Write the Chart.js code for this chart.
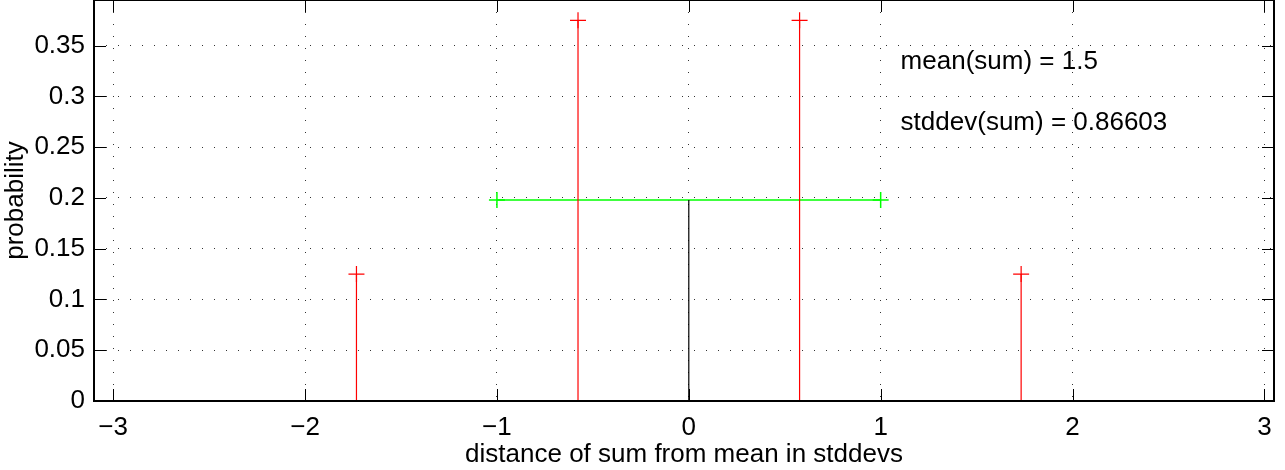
<!DOCTYPE html>
<html>
<head>
<meta charset="utf-8">
<script src="https://cdn.jsdelivr.net/npm/chart.js@4/dist/chart.umd.min.js"></script>
<style>
  body { margin: 0; background: #fff; }
  #wrap { width: 1285px; height: 470px; }
</style>
</head>
<body>
<div id="wrap"><canvas id="myChart" width="1285" height="470"></canvas></div>
<script>
// stems of the distribution (distance from mean in stddevs, probability)
const stemX = [-1.7321, -0.5774, 0.5774, 1.7321];
const stemP = [0.125, 0.375, 0.375, 0.125];

// black stem at the mean and green +/- 1 stddev bar
const meanX = 0;
const meanY = 0.198;
const sdBarX = [-1, 1];
const sdBarY = 0.198;

const xTicks = [-3, -2, -1, 0, 1, 2, 3];
const yTicks = [0, 0.05, 0.1, 0.15, 0.2, 0.25, 0.3, 0.35];

const noteText = ["mean(sum) = 1.5", "stddev(sum) = 0.86603"];
const noteX = 1.104;
const noteY = [0.334, 0.274];

const FONT = "'Liberation Sans', Arial, Helvetica, sans-serif";

let datasets = stemX.map(function (x, i) {
    return {
        data: [{ x: x, y: 0 }, { x: x, y: stemP[i] }],
        borderColor: '#ff0000',
        borderWidth: 1.2,
        showLine: true,
        pointStyle: 'cross',
        pointRadius: [0, 8],
        pointBorderColor: '#ff0000',
        pointBorderWidth: 1.2
    };
});

datasets.push({
    data: [{ x: meanX, y: 0 }, { x: meanX, y: meanY }],
    borderColor: '#000000',
    borderWidth: 1.2,
    showLine: true,
    pointRadius: 0
});

datasets.push({
    data: sdBarX.map(function (x) { return { x: x, y: sdBarY }; }),
    borderColor: '#00ff00',
    borderWidth: 1.5,
    showLine: true,
    pointStyle: 'cross',
    pointRadius: 8,
    pointBorderColor: '#00ff00',
    pointBorderWidth: 1.5
});

// frame, inward tick marks and the two text notes
const framePlugin = {
    id: 'frame',
    afterDraw(chart) {
        const ctx = chart.ctx;
        const a = chart.chartArea;
        const xs = chart.scales.x, ys = chart.scales.y;
        ctx.save();
        ctx.strokeStyle = '#000';
        ctx.lineWidth = 1;
        ctx.beginPath();
        xTicks.forEach(function (v) {
            const px = Math.round(xs.getPixelForValue(v)) + 0.5;
            ctx.moveTo(px, a.bottom); ctx.lineTo(px, a.bottom - 12);
            ctx.moveTo(px, a.top); ctx.lineTo(px, a.top + 12);
        });
        yTicks.forEach(function (v) {
            const py = Math.round(ys.getPixelForValue(v)) + 0.5;
            ctx.moveTo(a.left, py); ctx.lineTo(a.left + 12, py);
            ctx.moveTo(a.right, py); ctx.lineTo(a.right - 12, py);
        });
        ctx.stroke();
        ctx.lineWidth = 2;
        ctx.strokeRect(a.left, a.top, a.right - a.left, a.bottom - a.top);

        ctx.fillStyle = '#000';
        ctx.font = '26px ' + FONT;
        ctx.textAlign = 'left';
        ctx.textBaseline = 'middle';
        noteText.forEach(function (t, i) {
            ctx.fillText(t, xs.getPixelForValue(noteX), ys.getPixelForValue(noteY[i]));
        });
        ctx.restore();
    }
};

new Chart("myChart", {
    type: "scatter",
    data: { datasets: datasets },
    options: {
        responsive: false,
        animation: false,
        layout: { autoPadding: false, padding: { top: 0, right: 11, left: 0, bottom: 0 } },
        scales: {
            x: {
                type: 'linear',
                min: -3.1,
                max: 3.05,
                afterBuildTicks: function (scale) {
                    scale.ticks = xTicks.map(function (v) { return { value: v }; });
                },
                afterFit: function (scale) {
                    scale.height = 69;
                    scale.paddingLeft = 0;
                    scale.paddingRight = 0;
                },
                ticks: {
                    color: '#000',
                    font: { family: FONT, size: 26 },
                    padding: 3,
                    maxRotation: 0,
                    callback: function (v) { return v < 0 ? '\u2212' + Math.abs(v) : String(v); }
                },
                grid: { color: '#333', drawTicks: true, tickLength: 8, tickColor: 'rgba(0,0,0,0)', lineWidth: 1 },
                border: { display: false, dash: [1, 11] },
                title: {
                    display: true,
                    text: 'distance of sum from mean in stddevs',
                    color: '#000',
                    font: { family: FONT, size: 26 },
                    padding: { top: 0, bottom: 0 }
                }
            },
            y: {
                type: 'linear',
                min: 0,
                max: 0.395,
                afterBuildTicks: function (scale) {
                    scale.ticks = yTicks.map(function (v) { return { value: v }; });
                },
                afterFit: function (scale) {
                    scale.width = 94;
                    scale.paddingTop = 0;
                    scale.paddingBottom = 0;
                },
                ticks: {
                    color: '#000',
                    font: { family: FONT, size: 26 },
                    padding: 3,
                    callback: function (v) { return String(Math.round(v * 100) / 100); }
                },
                grid: { color: '#333', drawTicks: true, tickLength: 6, tickColor: 'rgba(0,0,0,0)', lineWidth: 1 },
                border: { display: false, dash: [1, 11] },
                title: {
                    display: true,
                    text: 'probability',
                    color: '#000',
                    font: { family: FONT, size: 26 },
                    padding: { top: 0, bottom: 0 }
                }
            }
        },
        plugins: {
            legend: { display: false },
            tooltip: { enabled: false }
        }
    },
    plugins: [framePlugin]
});
</script>
</body>
</html>
